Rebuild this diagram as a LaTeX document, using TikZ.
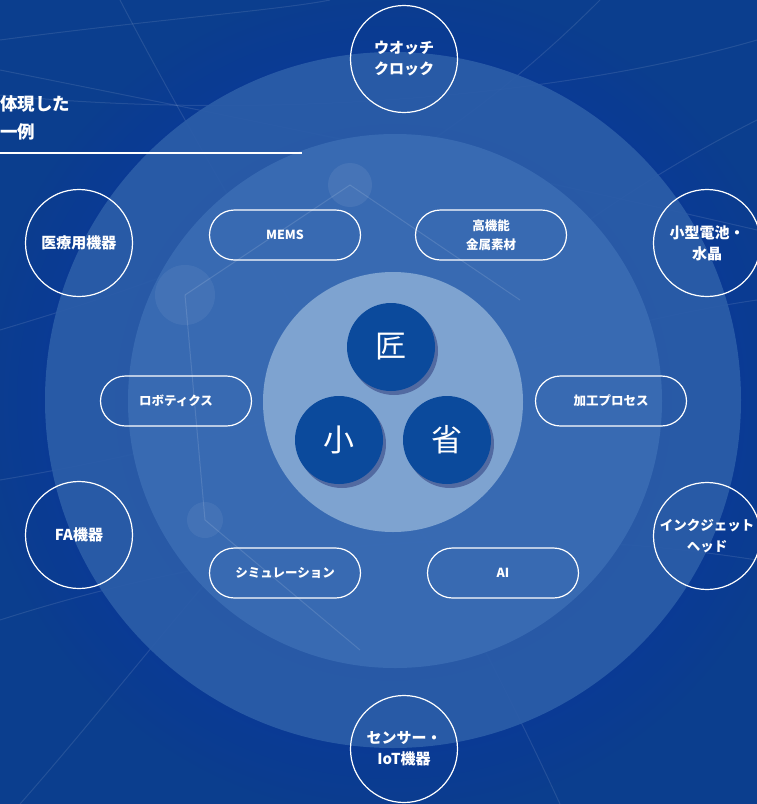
\documentclass[tikz,border=0pt]{standalone}
\usepackage{fontspec}
\setmainfont{Liberation Sans}
\newfontfamily\jp{Noto Sans CJK JP}
\usetikzlibrary{shadows,shapes.misc}
\definecolor{bgblue}{HTML}{0B3E8E}
\definecolor{ringA}{HTML}{2B5DA8}
\definecolor{ringB}{HTML}{3A6CB4}
\definecolor{ringC}{HTML}{7EA3D0}
\definecolor{core}{HTML}{0B4A9C}
\tikzset{
  outerbub/.style={circle, draw=white, line width=1.2pt, minimum size=107pt, inner sep=0pt,
    text=white, font=\jp\bfseries\fontsize{15}{21}\selectfont, align=center},
  pill/.style={rounded rectangle, draw=white, line width=1.2pt, minimum width=151pt, minimum height=50pt,
    inner sep=0pt, text=white, font=\jp\bfseries\fontsize{12.5}{19}\selectfont, align=center},
  corebub/.style={circle, fill=core, minimum size=88pt, inner sep=0pt, text=white,
    font=\jp\fontsize{31}{31}\selectfont,
    drop shadow={shadow xshift=3pt, shadow yshift=-4pt, opacity=0.35, fill=black!70!blue}},
  streak/.style={white, opacity=0.10, line width=1pt},
  heading/.style={text=white, font=\jp\bfseries\fontsize{17.5}{28}\selectfont, anchor=west, inner sep=0pt}
}
\begin{document}
\begin{tikzpicture}[x=1pt,y=-1pt]
\useasboundingbox (0,0) rectangle (757,804);
% background
\fill[bgblue] (0,0) rectangle (757,804);
\shade[inner color=blue!55!bgblue, outer color=bgblue, opacity=0.6] (393,402) circle (420);
% streaks
\draw[streak] (0,40) .. controls (150,20) and (280,10) .. (330,0);
\draw[streak] (0,70) .. controls (200,110) and (500,170) .. (757,230);
\draw[streak] (0,95) .. controls (250,120) and (550,100) .. (757,40);
\draw[streak] (0,330) .. controls (200,270) and (400,200) .. (600,0);
\draw[streak] (20,804) .. controls (200,600) and (400,300) .. (757,120);
\draw[streak] (0,620) .. controls (250,540) and (500,520) .. (757,560);
\draw[streak] (120,0) .. controls (250,250) and (420,500) .. (560,804);
\draw[streak] (0,480) .. controls (300,430) and (550,330) .. (757,300);
% rings
\node[circle, fill=ringA, opacity=0.92, minimum size=696pt, inner sep=0pt] (ringa) at (393,400) {};
\node[circle, fill=ringB, opacity=0.92, minimum size=534pt, inner sep=0pt] (ringb) at (395,401) {};
\node[circle, fill=ringC, minimum size=260pt, inner sep=0pt] (ringc) at (393,402) {};
% faint network inside rings
\draw[streak, opacity=0.12] (350,185) -- (185,295);
\draw[streak, opacity=0.12] (350,185) -- (520,300);
\draw[streak, opacity=0.12] (185,295) -- (205,520);
\draw[streak, opacity=0.12] (205,520) -- (360,650);
\fill[white, opacity=0.07] (350,185) circle (22);
\fill[white, opacity=0.06] (185,295) circle (30);
\fill[white, opacity=0.06] (205,520) circle (18);
% heading
\node[heading] (h1) at (0,104) {体現した};
\node[heading] (h2) at (0,132) {一例};
\coordinate (l0) at (0,153);
\coordinate (l1) at (302,153);
\draw[white, line width=1.3pt] (l0) -- (l1);
% outer bubbles
\node[outerbub] (watch) at (404,59) {ウオッチ\\クロック};
\node[outerbub] (batt) at (707,243) {小型電池・\\水晶};
\node[outerbub, font=\jp\bfseries\fontsize{13.5}{21}\selectfont] (ink) at (707,536) {インクジェット\\ヘッド};
\node[outerbub] (sensor) at (404,749) {センサー・\\IoT機器};
\node[outerbub] (fa) at (79,535) {FA機器};
\node[outerbub] (med) at (79,243) {医療用機器};
% pills
\node[pill] (mems) at (285,235) {MEMS};
\node[pill] (metal) at (491,235) {高機能\\金属素材};
\node[pill] (robot) at (176,401) {ロボティクス};
\node[pill] (proc) at (611,401) {加工プロセス};
\node[pill] (sim) at (285,573) {シミュレーション};
\node[pill] (ai) at (503,573) {AI};
% core
\node[corebub] (takumi) at (391,347) {匠};
\node[corebub] (sho) at (339,440) {小};
\node[corebub] (sei) at (447,440) {省};
\end{tikzpicture}
\end{document}
